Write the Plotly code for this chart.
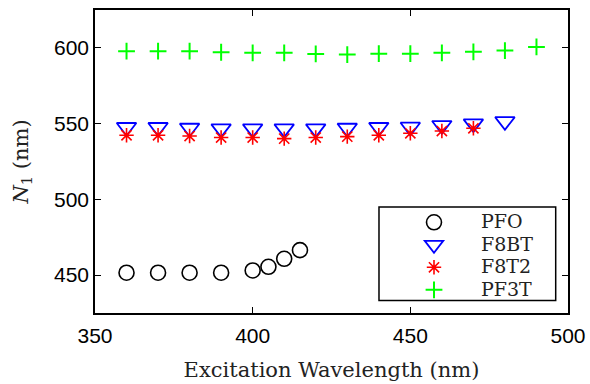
import plotly.graph_objects as go

# Excitation wavelengths (nm)
pfo_x = [360, 370, 380, 390, 400, 405, 410, 415]
pfo_y = [451.6, 451.6, 451.6, 451.6, 453.1, 455.5, 460.8, 466.5]

f8bt_x = [360, 370, 380, 390, 400, 410, 420, 430, 440, 450, 460, 470, 480]
f8bt_y = [547.6, 547.6, 547.1, 546.7, 546.7, 546.7, 546.7, 547.1, 547.6, 547.8, 548.9, 550.0, 551.5]

f8t2_x = [360, 370, 380, 390, 400, 410, 420, 430, 440, 450, 460, 470]
f8t2_y = [542.3, 542.3, 541.8, 540.8, 540.8, 540.1, 540.8, 541.4, 542.3, 543.6, 545.1, 546.9]

pf3t_x = [360, 370, 380, 390, 400, 410, 420, 430, 440, 450, 460, 470, 480, 490]
pf3t_y = [597.8, 597.8, 597.8, 597.1, 596.7, 596.7, 596.0, 595.6, 596.2, 596.2, 596.7, 597.4, 598.2, 600.6]

series_names = ["PFO", "F8BT", "F8T2", "PF3T"]

x_ticks = [350, 400, 450, 500]
y_ticks = [450, 500, 550, 600]

SERIF = "DejaVu Serif"
SANS = "Liberation Sans"


def legend_label(name):
    # larger glyphs than the legend's base font, which sets the row spacing
    return '<span style="font-size:19px">' + name + "</span>"


fig = go.Figure()
fig.add_trace(go.Scatter(
    x=pfo_x, y=pfo_y, mode="markers", name=legend_label(series_names[0]),
    marker=dict(symbol="circle-open", size=15, color="black", line=dict(width=1.6, color="black")),
))
fig.add_trace(go.Scatter(
    x=f8bt_x, y=f8bt_y, mode="markers", name=legend_label(series_names[1]),
    marker=dict(symbol="triangle-down-open", size=17, color="blue", line=dict(width=1.8, color="blue")),
))
fig.add_trace(go.Scatter(
    x=f8t2_x, y=f8t2_y, mode="markers", name=legend_label(series_names[2]),
    marker=dict(symbol="asterisk-open", size=12, color="red", line=dict(width=1.6, color="red")),
))
fig.add_trace(go.Scatter(
    x=pf3t_x, y=pf3t_y, mode="markers", name=legend_label(series_names[3]),
    marker=dict(symbol="cross-thin-open", size=12, color="#00ff00", line=dict(width=2, color="#00ff00")),
))

axis_common = dict(
    showline=True, linecolor="black", linewidth=1.5, mirror="allticks",
    ticks="inside", ticklen=6, tickwidth=1, tickcolor="black",
    showgrid=False, zeroline=False, automargin=False,
    tickfont=dict(family=SANS, size=21, color="black"),
)

fig.update_xaxes(
    range=[350, 500], tickvals=x_ticks, ticktext=[str(v) for v in x_ticks],
    ticklabelstandoff=3,
    title=dict(text="Excitation Wavelength (nm)", font=dict(family=SERIF, size=21, color="#222"), standoff=16),
    **axis_common,
)
fig.update_yaxes(
    range=[425, 625], tickvals=y_ticks, ticktext=[str(v) for v in y_ticks],
    title=dict(text="<i>N</i><sub>1</sub> (nm)", font=dict(family=SERIF, size=21, color="#222"), standoff=20),
    **axis_common,
)

# Legend frame drawn as a paper-space rectangle around the legend entries
fig.add_shape(
    type="rect", xref="paper", yref="paper",
    x0=0.6004, x1=0.974, y0=0.0415, y1=0.3495,
    line=dict(color="black", width=1.5), fillcolor="white", layer="above",
)

fig.update_layout(
    width=590, height=384,
    margin=dict(l=95, r=22, t=10, b=71),
    paper_bgcolor="white", plot_bgcolor="white",
    showlegend=True,
    legend=dict(
        x=(387 - 95) / 473, y=0.353, xanchor="left", yanchor="top",
        borderwidth=0, bgcolor="rgba(0,0,0,0)",
        font=dict(family=SERIF, size=15, color="#222"),
        itemwidth=84, tracegroupgap=0,
    ),
)

fig.write_html("out.html")
